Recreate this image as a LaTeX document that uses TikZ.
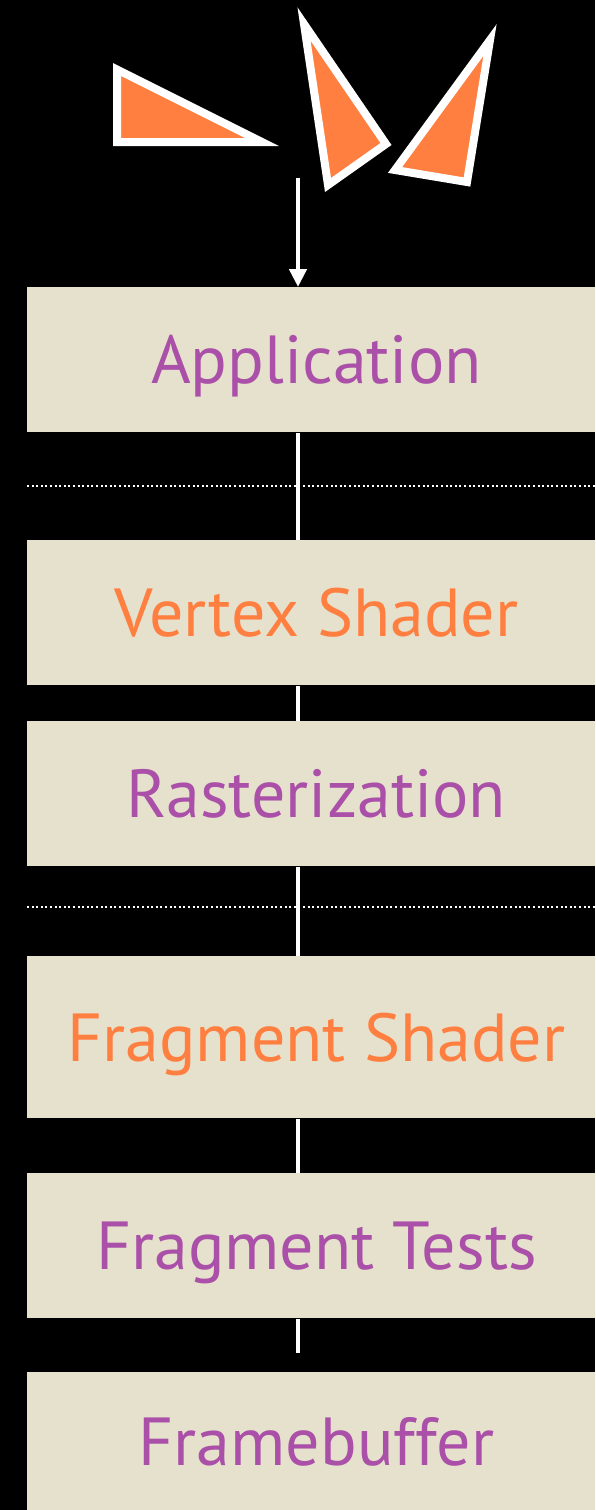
\documentclass[tikz,border=0pt]{standalone}
\usepackage{fontspec}
\setmainfont{PT Sans}
\usetikzlibrary{arrows.meta,positioning}

\definecolor{stagebg}{RGB}{230,225,205}
\definecolor{shadeorange}{RGB}{255,127,65}
\definecolor{fixedpurple}{RGB}{170,80,168}

\begin{document}
\begin{tikzpicture}[x=0.5pt, y=-0.5pt, every node/.style={font=\fontsize{34}{37}\selectfont},
        stage/.style={fill=stagebg, anchor=north west, minimum width=289pt, minimum height=72.5pt, inner sep=0pt,
          text height=27pt, text depth=3pt},
        conn/.style={draw=white, line width=2.2pt},
        arr/.style={conn, -{Triangle[width=8.5pt, length=9pt]}},
        sep/.style={draw=white, line width=1pt, dash pattern=on 1pt off 1.3pt},
        tri/.style={fill=shadeorange, draw=white, line width=4pt, line join=miter}]
        \fill[black] (0,0) rectangle (595,1510);
        \useasboundingbox (0,0) rectangle (595,1510);
        \clip (0,0) rectangle (595,1510);
        % input primitives
        \filldraw[tri] (117,69.5) -- (117,142) -- (262,142) -- cycle;
        \filldraw[tri] (304,24) -- (386,144) -- (328,185) -- cycle;
        \filldraw[tri] (490,40) -- (467,182) -- (395,170) -- cycle;
        % pipeline stages
        \node[stage, text=fixedpurple] (app) at (27,287) {Application};
        \node[stage, text=shadeorange] (vert) at (27,540) {Vertex Shader};
        \node[stage, text=fixedpurple] (rast) at (27,721) {Rasterization};
        \node[stage, text=shadeorange, minimum height=81pt] (frag) at (27,956) {Fragment Shader};
        \node[stage, text=fixedpurple] (tests) at (27,1173) {Fragment Tests};
        \node[stage, text=fixedpurple, minimum height=69pt] (fbuf) at (27,1372) {Framebuffer};
        \coordinate (axis) at (298,0);
        \coordinate (src) at (298,178);
        % boundaries
        \draw[sep] (27,486) -- (595,486);
        \draw[sep] (27,907) -- (595,907);
        % connections
        \draw[arr] (src) -- (app.north -| axis);
        \draw[conn] (app.south -| axis) -- (vert.north -| axis);
        \draw[conn] (vert.south -| axis) -- (rast.north -| axis);
        \draw[conn] (rast.south -| axis) -- (frag.north -| axis);
        \draw[conn] (frag.south -| axis) -- (tests.north -| axis);
        \draw[conn, shorten >=9.5pt] (tests.south -| axis) -- (fbuf.north -| axis);
      \end{tikzpicture}
\end{document}
